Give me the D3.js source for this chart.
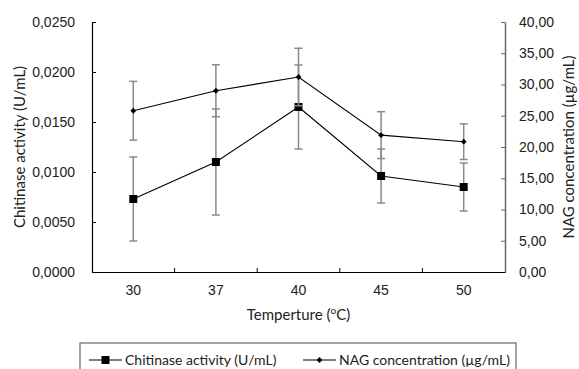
<!DOCTYPE html>
<html>
<head>
<meta charset="utf-8">
<script src="https://cdn.jsdelivr.net/npm/d3@7/dist/d3.min.js"></script>
<style>
  html, body { margin: 0; padding: 0; background: #fff; }
  svg { display: block; font-family: Lato, "Open Sans", sans-serif; }
</style>
</head>
<body>
<svg id="chart" width="579" height="369"></svg>
<script>
// ---- data ----
const categories = ["30", "37", "40", "45", "50"];
const chitinase = [0.0073, 0.0110, 0.0165, 0.0096, 0.0085];
const chitinaseErr = [0.0042, 0.0053, 0.0042, 0.0027, 0.0024];
const nag = [25.8, 29.0, 31.2, 21.9, 20.85];
const nagErr = [4.7, 4.15, 4.6, 3.75, 2.85];
const leftTicks = [0, 0.005, 0.010, 0.015, 0.020, 0.025];
const rightTicks = [0, 5, 10, 15, 20, 25, 30, 35, 40];

// ---- layout ----
const svg = d3.select("#chart");
const L = 92, R = 505, T = 22, B = 272;

const x = d3.scaleBand().domain(categories).range([L, R]).padding(0);
const yL = d3.scaleLinear().domain([0, 0.025]).range([B, T]);
const yR = d3.scaleLinear().domain([0, 40]).range([B, T]);
const cx = c => x(c) + x.bandwidth() / 2;

const comma = f => v => d3.format(f)(v).replace(".", ",");

// left axis
const gl = svg.append("g").attr("transform", `translate(${L},0)`)
  .call(d3.axisLeft(yL).tickValues(leftTicks).tickSize(-4).tickPadding(17).tickSizeOuter(0).tickFormat(comma(".4f")));
gl.select(".domain").attr("stroke", "#000").attr("stroke-width", 1.2);
gl.selectAll(".tick line").attr("stroke", "#000");
gl.selectAll("text").attr("font-size", 14).attr("fill", "#222");

// right axis
const gr = svg.append("g").attr("transform", `translate(${R},0)`)
  .call(d3.axisRight(yR).tickValues(rightTicks).tickSize(-4).tickPadding(14).tickSizeOuter(0).tickFormat(comma(".2f")));
gr.select(".domain").attr("stroke", "#666").attr("stroke-width", 1.5);
gr.selectAll(".tick line").attr("stroke", "#666");
gr.selectAll("text").attr("font-size", 14).attr("fill", "#222");

// x axis
const gx = svg.append("g").attr("transform", `translate(0,${B})`)
  .call(d3.axisBottom(x).tickSize(0).tickPadding(13).tickSizeOuter(0));
gx.select(".domain").attr("stroke", "#000").attr("stroke-width", 1.2);
gx.selectAll("text").attr("font-size", 14).attr("fill", "#222");
// inner category separators
gx.selectAll(".sep").data(categories.slice(1)).enter().append("line")
  .attr("x1", d => x(d)).attr("x2", d => x(d))
  .attr("y1", 0).attr("y2", -4).attr("stroke", "#000");

// axis titles
svg.append("text").attr("transform", `translate(25,${(T + B) / 2}) rotate(-90)`)
  .attr("text-anchor", "middle").attr("font-size", 15).attr("fill", "#222")
  .text("Chitinase activity (U/mL)");
svg.append("text").attr("transform", `translate(574,${(T + B) / 2}) rotate(-90)`)
  .attr("text-anchor", "middle").attr("font-size", 15).attr("fill", "#222")
  .text("NAG concentration (µg/mL)");
const xt = svg.append("text").attr("x", (L + R) / 2).attr("y", 320)
  .attr("text-anchor", "middle").attr("font-size", 15).attr("fill", "#222");
xt.append("tspan").text("Temperture (");
xt.append("tspan").attr("font-size", 10).attr("dy", -6).text("o");
xt.append("tspan").attr("dy", 6).text("C)");

// series drawing
function errorBars(vals, errs, y) {
  const g = svg.append("g").attr("stroke", "#8a8a8a").attr("stroke-width", 1.5);
  categories.forEach((c, i) => {
    const X = cx(c), top = y(vals[i] + errs[i]), bot = y(vals[i] - errs[i]);
    g.append("line").attr("x1", X).attr("x2", X).attr("y1", top).attr("y2", bot);
    g.append("line").attr("x1", X - 4).attr("x2", X + 4).attr("y1", top).attr("y2", top);
    g.append("line").attr("x1", X - 4).attr("x2", X + 4).attr("y1", bot).attr("y2", bot);
  });
}
function seriesLine(vals, y) {
  svg.append("path").datum(vals)
    .attr("fill", "none").attr("stroke", "#000").attr("stroke-width", 1.1)
    .attr("d", d3.line().x((d, i) => cx(categories[i])).y(d => y(d)));
}

// chitinase
errorBars(chitinase, chitinaseErr, yL);
seriesLine(chitinase, yL);
svg.append("g").selectAll("rect").data(chitinase).enter().append("rect")
  .attr("x", (d, i) => cx(categories[i]) - 4).attr("y", d => yL(d) - 4)
  .attr("width", 8).attr("height", 8).attr("fill", "#000");

// NAG
errorBars(nag, nagErr, yR);
seriesLine(nag, yR);
const diamond = d3.symbol().type(d3.symbolDiamond2).size(22);
svg.append("g").selectAll("path").data(nag).enter().append("path")
  .attr("transform", (d, i) => `translate(${cx(categories[i])},${yR(d)})`)
  .attr("d", diamond).attr("fill", "#000");

// legend
svg.append("rect").attr("x", 80).attr("y", 343).attr("width", 436).attr("height", 40)
  .attr("fill", "none").attr("stroke", "#666").attr("stroke-width", 1.2);
const legendItems = [
  { name: "Chitinase activity (U/mL)", x0: 89, marker: "square" },
  { name: "NAG concentration (µg/mL)", x0: 303, marker: "diamond" }
];
legendItems.forEach(it => {
  const ly = 360;
  svg.append("line").attr("x1", it.x0).attr("x2", it.x0 + 33).attr("y1", ly).attr("y2", ly)
    .attr("stroke", "#000").attr("stroke-width", 1.1);
  if (it.marker === "square") {
    svg.append("rect").attr("x", it.x0 + 16.5 - 4).attr("y", ly - 4).attr("width", 8).attr("height", 8).attr("fill", "#000");
  } else {
    svg.append("path").attr("transform", `translate(${it.x0 + 16.5},${ly})`).attr("d", diamond).attr("fill", "#000");
  }
  svg.append("text").attr("x", it.x0 + 36).attr("y", ly + 5).attr("font-size", 14).attr("fill", "#222").text(it.name);
});
</script>
</body>
</html>
